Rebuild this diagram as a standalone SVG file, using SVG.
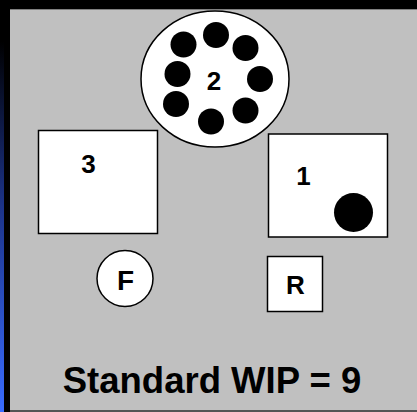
<svg xmlns="http://www.w3.org/2000/svg" width="417" height="412" viewBox="0 0 417 412">
<defs>
<linearGradient id="edge" x1="0" y1="0" x2="0" y2="412" gradientUnits="userSpaceOnUse">
<stop offset="0.1" stop-color="#000000"/>
<stop offset="0.5" stop-color="#1c3389"/>
<stop offset="1" stop-color="#3a6cff"/>
</linearGradient>
<style>
.shape{fill:#ffffff;stroke:#000000;stroke-width:1.5}
.dot{fill:#000000}
.lbl{font-family:"Liberation Sans",Arial,sans-serif;font-weight:bold;fill:#000000;text-anchor:middle}
</style>
</defs>
<rect x="0" y="0" width="417" height="412" fill="#000000"/>
<rect x="0" y="0" width="4" height="412" fill="url(#edge)"/>
<rect x="10" y="9" width="407" height="401" fill="#c0c0c0"/>
<line x1="10" y1="9.5" x2="417" y2="9.5" stroke="#808080" stroke-width="1"/>
<line x1="10" y1="411" x2="417" y2="411" stroke="#555555" stroke-width="2"/>

<g id="station2">
<ellipse class="shape" cx="215" cy="79" rx="74" ry="68"/>
<circle class="dot" cx="216" cy="35" r="13"/>
<circle class="dot" cx="245.5" cy="48" r="13"/>
<circle class="dot" cx="260" cy="79" r="13"/>
<circle class="dot" cx="245.5" cy="110.5" r="13"/>
<circle class="dot" cx="211" cy="121.5" r="13"/>
<circle class="dot" cx="176" cy="104" r="13"/>
<circle class="dot" cx="177.5" cy="74" r="13"/>
<circle class="dot" cx="183.5" cy="44.5" r="13"/>
<text class="lbl" x="214" y="90" font-size="26">2</text>
</g>

<g id="station3">
<rect class="shape" x="38.5" y="130.5" width="119" height="103"/>
<text class="lbl" x="88.5" y="173" font-size="26">3</text>
</g>

<g id="station1">
<rect class="shape" x="268.5" y="134" width="119" height="103"/>
<text class="lbl" x="303.5" y="185" font-size="26">1</text>
<circle class="dot" cx="353.5" cy="212.5" r="19.5"/>
</g>

<g id="nodeF">
<circle class="shape" cx="125" cy="278.5" r="28"/>
<text class="lbl" x="125.5" y="290" font-size="28">F</text>
</g>

<g id="nodeR">
<rect class="shape" x="267.5" y="256.5" width="55" height="55"/>
<text class="lbl" x="295.5" y="293.5" font-size="26">R</text>
</g>

<g id="connectors"/>

<text class="lbl" x="212" y="392.5" font-size="36.5">Standard WIP = 9</text>
</svg>
